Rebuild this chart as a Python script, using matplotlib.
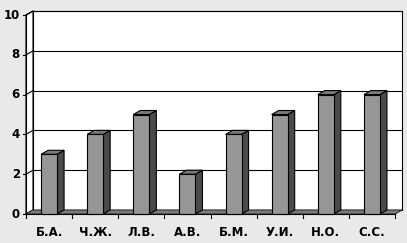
import matplotlib.pyplot as plt
from matplotlib.patches import Polygon

# Data
names = ['Б.А.', 'Ч.Ж.', 'Л.В.', 'А.В.', 'Б.М.', 'У.И.', 'Н.О.', 'С.С.']
scores = [3, 4, 5, 2, 4, 5, 6, 6]
y_ticks = [0, 2, 4, 6, 8, 10]

plt.rcParams['font.family'] = ['DejaVu Sans']

fig = plt.figure(figsize=(4.07, 2.43), dpi=100, facecolor='#e9e9e9')
ax = fig.add_axes([0, 0, 1, 1])
ax.set_facecolor('#e9e9e9')
ax.axis('off')

# pixel geometry of the chart frame
px_x0, px_cat = 26, 46.125      # left of front axis, width of one category
px_y0, px_unit = 214, 19.9      # front baseline, pixels per value unit
n = len(names)
ax.set_xlim(-0.5 - px_x0 / px_cat, -0.5 + (407 - px_x0) / px_cat)
ax.set_ylim(-(243 - px_y0) / px_unit, px_y0 / px_unit)

dx = 7 / px_cat     # depth offset
dy = 4 / px_unit
left, right = -0.5, n - 0.5
top = max(y_ticks)
lw = 0.8

# back wall and left wall
ax.add_patch(Polygon([(left + dx, dy), (right + dx, dy), (right + dx, top + dy), (left + dx, top + dy)],
                     closed=True, facecolor='white', edgecolor='black', lw=lw, zorder=1))
ax.add_patch(Polygon([(left, 0), (left + dx, dy), (left + dx, top + dy), (left, top)],
                     closed=True, facecolor='white', edgecolor='black', lw=lw, zorder=1))

# gridlines on walls + left ticks and labels
for t in y_ticks:
    ax.plot([left + dx, right + dx], [t + dy, t + dy], color='black', lw=lw, zorder=2)
    ax.plot([left, left + dx], [t, t + dy], color='black', lw=lw, zorder=2)
    ax.plot([left - 3 / px_cat, left], [t, t], color='black', lw=lw, zorder=2)
    ax.text(left - 6 / px_cat, t, str(t), ha='right', va='center',
            fontsize=8.5, fontweight='bold', zorder=5)

# floor
ax.add_patch(Polygon([(left, 0), (right, 0), (right + dx, dy), (left + dx, dy)],
                     closed=True, facecolor='#7c7c7c', edgecolor='#333333', lw=lw, zorder=3))

# bars
w = 16 / px_cat
x = list(range(n))
ax.bar(x, scores, width=w, color='#969696', edgecolor='black', lw=lw, zorder=6)
for xi, v in zip(x, scores):
    ax.add_patch(Polygon([(xi + w / 2, 0), (xi + w / 2 + dx, dy), (xi + w / 2 + dx, v + dy), (xi + w / 2, v)],
                         closed=True, facecolor='#4a4a4a', edgecolor='black', lw=lw, zorder=5))
    ax.add_patch(Polygon([(xi - w / 2, v), (xi + w / 2, v), (xi + w / 2 + dx, v + dy), (xi - w / 2 + dx, v + dy)],
                         closed=True, facecolor='#7a7a7a', edgecolor='black', lw=lw, zorder=5))

# front axes
ax.plot([left, left], [0, top], color='black', lw=lw, zorder=7)
ax.plot([left, right], [0, 0], color='black', lw=lw, zorder=7)
for i in range(n + 1):
    ax.plot([left + i, left + i], [0, -4 / px_unit], color='black', lw=lw, zorder=7)
for xi, name in zip(x, names):
    ax.text(xi, -18 / px_unit, name, ha='center', va='center',
            fontsize=8.5, fontweight='bold', zorder=7)

fig.savefig('out.png', dpi=100, facecolor=fig.get_facecolor())
